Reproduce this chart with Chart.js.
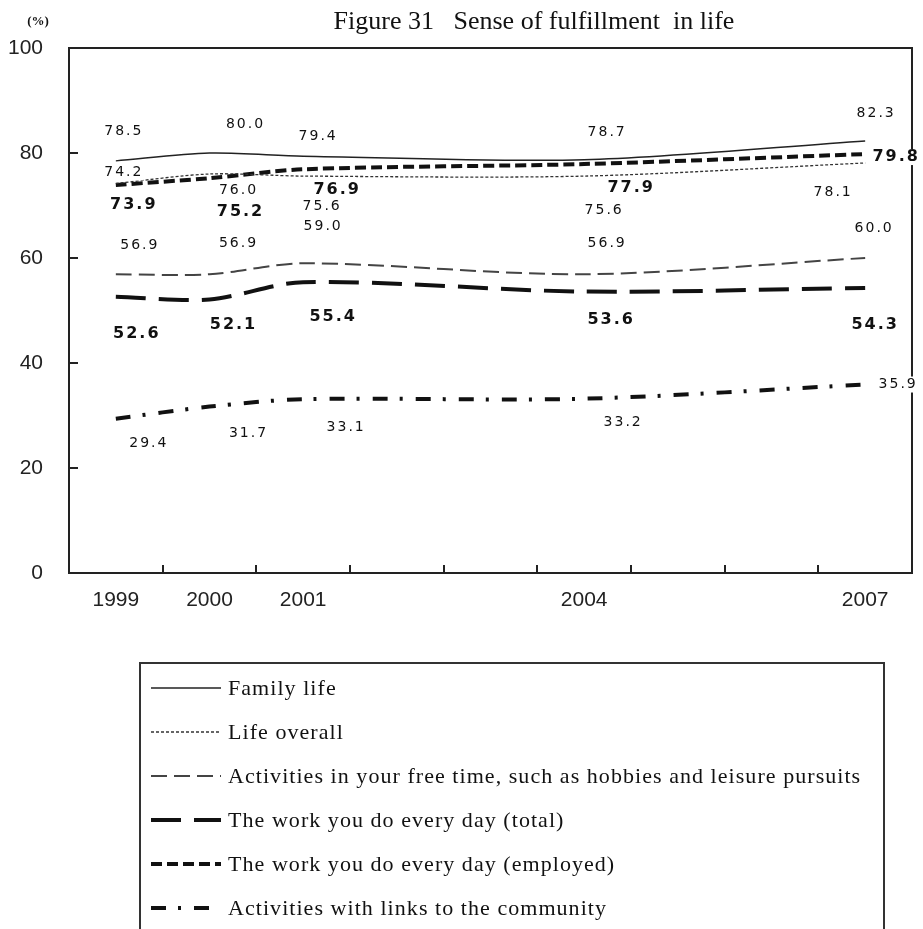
<!DOCTYPE html>
<html>
<head>
<meta charset="utf-8">
<script src="https://cdn.jsdelivr.net/npm/chart.js@4"></script>
<style>
  html, body { margin: 0; padding: 0; background: #fff; }
  #wrap { width: 923px; height: 929px; }
</style>
</head>
<body>
<div id="wrap"><canvas id="fulfillment" width="923" height="929"></canvas></div>
<script>
// every year on the axis, but the survey only ran in some of them
const years = ["1999", "2000", "2001", "2002", "2003", "2004", "2005", "2006", "2007"];
const surveyYears = ["1999", "2000", "2001", "2004", "2007"];

const familyLife   = [78.5, 80.0, 79.4, 78.7, 82.3];
const lifeOverall  = [74.2, 76.0, 75.6, 75.6, 78.1];
const freeTime     = [56.9, 56.9, 59.0, 56.9, 60.0];
const workTotal    = [52.6, 52.1, 55.4, 53.6, 54.3];
const workEmployed = [73.9, 75.2, 76.9, 77.9, 79.8];
const community    = [29.4, 31.7, 33.1, 33.2, 35.9];

const seriesNames = [
    "Family life",
    "Life overall",
    "Activities in your free time, such as hobbies and leisure pursuits",
    "The work you do every day (total)",
    "The work you do every day (employed)",
    "Activities with links to the community"
];

// where each value label sits relative to its point (dx, dy)
const labelShift = [
    [[7, -30], [35, -29], [14, -20], [22, -27], [10, -28]],
    [[7, -11], [28, 16], [18, 30], [19, 34], [-33, 29]],
    [[23, -29], [28, -31], [19, -37], [22, -31], [8, -30]],
    [[20, 37], [23, 25], [29, 35], [26, 28], [9, 37]],
    [[17, 20], [30, 34], [33, 21], [46, 24], [30, 3]],
    [[32, 25], [38, 27], [42, 28], [38, 24], [32, 0]]
];
const boldLabels = [false, false, false, true, true, false];

const toPoints = (arr) => surveyYears.map((y, i) => ({ x: y, y: arr[i] }));

const lineBase = { pointRadius: 0, pointHoverRadius: 0, tension: 0.3, fill: false };

const decor = {
    id: "decor",
    afterDraw(chart) {
        const ctx = chart.ctx;
        const area = chart.chartArea;
        const xs = chart.scales.x;
        const ys = chart.scales.y;
        ctx.save();

        // frame top + right
        ctx.strokeStyle = "#222";
        ctx.lineWidth = 2;
        ctx.beginPath();
        ctx.moveTo(area.left, area.top);
        ctx.lineTo(area.right, area.top);
        ctx.lineTo(area.right, area.bottom);
        ctx.stroke();

        // inward tick marks
        ctx.beginPath();
        [20, 40, 60, 80].forEach(v => {
            const y = Math.round(ys.getPixelForValue(v));
            ctx.moveTo(area.left, y);
            ctx.lineTo(area.left + 9, y);
        });
        for (let i = 0; i < years.length - 1; i++) {
            const x = Math.round((xs.getPixelForValue(i) + xs.getPixelForValue(i + 1)) / 2);
            ctx.moveTo(x, area.bottom);
            ctx.lineTo(x, area.bottom - 8);
        }
        ctx.stroke();

        // value labels
        ctx.textAlign = "center";
        ctx.textBaseline = "middle";
        chart.data.datasets.forEach((ds, di) => {
            const meta = chart.getDatasetMeta(di);
            ctx.font = boldLabels[di] ? "bold 16px 'DejaVu Sans'" : "14px 'DejaVu Sans'";
            ctx.letterSpacing = "2px";
            meta.data.forEach((pt, i) => {
                const txt = ds.data[i].y.toFixed(1);
                const x = pt.x + labelShift[di][i][0];
                const y = pt.y + labelShift[di][i][1];
                const w = ctx.measureText(txt).width;
                ctx.fillStyle = "#fff";
                ctx.fillRect(x - w / 2 - 1, y - 8, w + 2, 16);
                ctx.fillStyle = "#111";
                ctx.fillText(txt, x + 1, y);
            });
        });
        ctx.letterSpacing = "0px";

        // title and unit
        ctx.fillStyle = "#111";
        ctx.font = "26px 'Liberation Serif'";
        ctx.fillText("Figure 31   Sense of fulfillment  in life", 534, 22);
        ctx.font = "bold 13px 'Liberation Serif'";
        ctx.fillText("(%)", 38, 22);

        // legend box
        ctx.strokeStyle = "#333";
        ctx.lineWidth = 2;
        ctx.strokeRect(140, 663, 744, 300);
        ctx.textAlign = "left";
        ctx.font = "22px 'Liberation Serif'";
        ctx.letterSpacing = "1.05px";
        chart.data.datasets.forEach((ds, di) => {
            const y = 688 + di * 44;
            ctx.save();
            ctx.strokeStyle = ds.borderColor;
            ctx.lineWidth = ds.borderWidth;
            ctx.setLineDash(ds.borderDash || []);
            ctx.beginPath();
            ctx.moveTo(151, y);
            ctx.lineTo(221, y);
            ctx.stroke();
            ctx.restore();
            ctx.fillStyle = "#111";
            ctx.fillText(seriesNames[di], 228, y + 1);
        });
        ctx.restore();
    }
};

new Chart(document.getElementById("fulfillment"), {
    type: "line",
    data: {
        labels: years,
        datasets: [
            { ...lineBase, label: seriesNames[0], data: toPoints(familyLife), borderColor: "#222", borderWidth: 1.5 },
            { ...lineBase, label: seriesNames[1], data: toPoints(lifeOverall), borderColor: "#333", borderWidth: 1.3, borderDash: [3, 2] },
            { ...lineBase, label: seriesNames[2], data: toPoints(freeTime), borderColor: "#444", borderWidth: 2, borderDash: [16, 7] },
            { ...lineBase, label: seriesNames[3], data: toPoints(workTotal), borderColor: "#111", borderWidth: 4, borderDash: [30, 13] },
            { ...lineBase, label: seriesNames[4], data: toPoints(workEmployed), borderColor: "#111", borderWidth: 4, borderDash: [11, 5] },
            { ...lineBase, label: seriesNames[5], data: toPoints(community), borderColor: "#111", borderWidth: 4, borderDash: [15, 12, 3, 13] }
        ]
    },
    options: {
        responsive: false,
        animation: false,
        events: [],
        layout: { padding: { left: 8, right: 11, top: 48, bottom: 303 } },
        scales: {
            x: {
                type: "category",
                offset: true,
                grid: { display: false, drawTicks: false },
                border: { display: true, color: "#222", width: 2 },
                ticks: {
                    autoSkip: false,
                    maxRotation: 0,
                    padding: 15,
                    color: "#222",
                    font: { family: "'Liberation Sans'", size: 21 },
                    callback: (v, i) => surveyYears.includes(years[i]) ? years[i] : ""
                },
                afterFit: (s) => { s.height = 53; }
            },
            y: {
                min: 0,
                max: 100,
                grid: { display: false, drawTicks: false },
                border: { display: true, color: "#222", width: 2 },
                ticks: {
                    stepSize: 20,
                    padding: 26,
                    color: "#222",
                    font: { family: "'Liberation Sans'", size: 21 }
                },
                afterFit: (s) => { s.width = 61; }
            }
        },
        plugins: {
            legend: { display: false },
            title: { display: false },
            tooltip: { enabled: false }
        }
    },
    plugins: [decor]
});
</script>
</body>
</html>
